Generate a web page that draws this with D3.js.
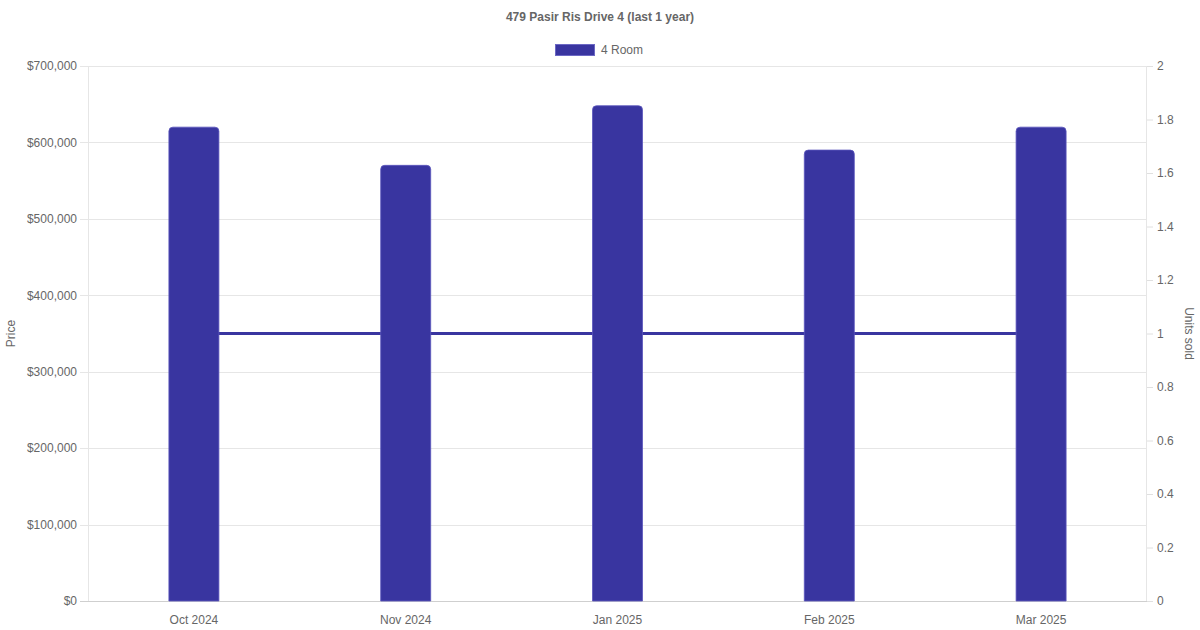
<!DOCTYPE html>
<html>
<head>
<meta charset="utf-8">
<script src="https://cdn.jsdelivr.net/npm/d3@7"></script>
<style>
  body { margin: 0; background: #fff; }
  svg text { font-family: "Liberation Sans", Arial, Helvetica, sans-serif; fill: #666; }
</style>
</head>
<body>
<div id="main_plot"></div>
<script>
months = ["Oct 2024", "Nov 2024", "Jan 2025", "Feb 2025", "Mar 2025"];
prices = [620000, 570000, 648000, 590000, 620000];
unitsSold = [1, 1, 1, 1, 1];
priceTicks = [0, 100000, 200000, 300000, 400000, 500000, 600000, 700000];
unitTicks = [0, 0.2, 0.4, 0.6, 0.8, 1, 1.2, 1.4, 1.6, 1.8, 2];

barColor = "#3935a0";

margin = { top: 66, right: 53, bottom: 29, left: 88 },
  width = 1200 - margin.left - margin.right,
  height = 630 - margin.top - margin.bottom;

function makePlot() {
  let svg = d3.select("#main_plot").append("svg")
    .attr("width", 1200)
    .attr("height", 630);

  // title + legend
  svg.append("text")
    .attr("x", 600)
    .attr("y", 21)
    .attr("text-anchor", "middle")
    .style("font-size", "12px")
    .style("font-weight", "bold")
    .text("479 Pasir Ris Drive 4 (last 1 year)");

  svg.append("rect")
    .attr("x", 555.5)
    .attr("y", 44.5)
    .attr("width", 39)
    .attr("height", 11)
    .attr("fill", barColor)
    .attr("stroke", "#6c68c4")
    .attr("stroke-width", 1);

  svg.append("text")
    .attr("x", 601)
    .attr("y", 54)
    .style("font-size", "12px")
    .text("4 Room");

  let g = svg.append("g")
    .attr("transform", "translate(" + margin.left + "," + margin.top + ")");

  let x = d3.scaleBand()
    .domain(months)
    .range([0, width]);

  let y = d3.scaleLinear()
    .domain([0, 700000])
    .range([height, 0]);

  let y2 = d3.scaleLinear()
    .domain([0, 2])
    .range([height, 0]);

  // grid lines from the price axis
  g.append("g")
    .selectAll("line")
    .data(priceTicks)
    .enter().append("line")
    .attr("x1", -8)
    .attr("x2", width)
    .attr("y1", d => Math.round(y(d)) + 0.5)
    .attr("y2", d => Math.round(y(d)) + 0.5)
    .attr("stroke", d => d === 0 ? "#cfcfcf" : "#e6e6e6")
    .attr("stroke-width", 1);

  // left and right border lines
  g.append("line")
    .attr("x1", 0.5).attr("x2", 0.5)
    .attr("y1", 0).attr("y2", height)
    .attr("stroke", "#e6e6e6");
  g.append("line")
    .attr("x1", width - 0.5).attr("x2", width - 0.5)
    .attr("y1", 0).attr("y2", height)
    .attr("stroke", "#e6e6e6");

  let fmt = d3.format("$,.0f");
  let yAxis = d3.axisLeft(y)
    .tickValues(priceTicks)
    .tickFormat(d => fmt(d))
    .tickSize(0)
    .tickPadding(11);
  let yAx = g.append("g").call(yAxis);
  yAx.select(".domain").remove();
  yAx.selectAll("text").style("font-size", "12px").attr("fill", "#666");

  let y2Axis = d3.axisRight(y2)
    .tickValues(unitTicks)
    .tickFormat(d => d3.format("~g")(d))
    .tickSize(6)
    .tickPadding(4);
  let y2Ax = g.append("g")
    .attr("transform", "translate(" + width + ",0)")
    .call(y2Axis);
  y2Ax.select(".domain").remove();
  y2Ax.selectAll("line").attr("stroke", "#e0e0e0");
  y2Ax.selectAll("text").style("font-size", "12px").attr("fill", "#666");

  let xAxis = d3.axisBottom(x)
    .tickSize(0)
    .tickPadding(14);
  let xAx = g.append("g")
    .attr("transform", "translate(0," + height + ")")
    .call(xAxis);
  xAx.select(".domain").remove();
  xAx.selectAll("text").style("font-size", "12px").attr("fill", "#666");

  // axis titles
  svg.append("text")
    .attr("transform", "translate(15," + (margin.top + height / 2) + ") rotate(-90)")
    .attr("text-anchor", "middle")
    .style("font-size", "12px")
    .text("Price");

  svg.append("text")
    .attr("transform", "translate(1185," + (margin.top + height / 2) + ") rotate(90)")
    .attr("text-anchor", "middle")
    .style("font-size", "12px")
    .text("Units sold");

  // units sold line (sits behind the bars)
  let line = d3.line()
    .x((d, i) => x(months[i]) + x.bandwidth() / 2)
    .y(d => y2(d));

  g.append("path")
    .datum(unitsSold)
    .attr("d", line)
    .attr("fill", "none")
    .attr("stroke", barColor)
    .attr("stroke-width", 3);

  // bars with rounded tops
  let barW = 50, r = 4;
  g.selectAll(".bar")
    .data(prices)
    .enter().append("path")
    .attr("class", "bar")
    .attr("d", function(d, i) {
      let x0 = x(months[i]) + x.bandwidth() / 2 - barW / 2;
      let x1 = x0 + barW;
      let top = y(d), bot = y(0);
      return "M" + x0 + "," + bot +
        "V" + (top + r) +
        "Q" + x0 + "," + top + " " + (x0 + r) + "," + top +
        "H" + (x1 - r) +
        "Q" + x1 + "," + top + " " + x1 + "," + (top + r) +
        "V" + bot + "Z";
    })
    .attr("fill", barColor)
    .attr("stroke", "#5a56bc")
    .attr("stroke-width", 0.8);
}

makePlot();
</script>
</body>
</html>
